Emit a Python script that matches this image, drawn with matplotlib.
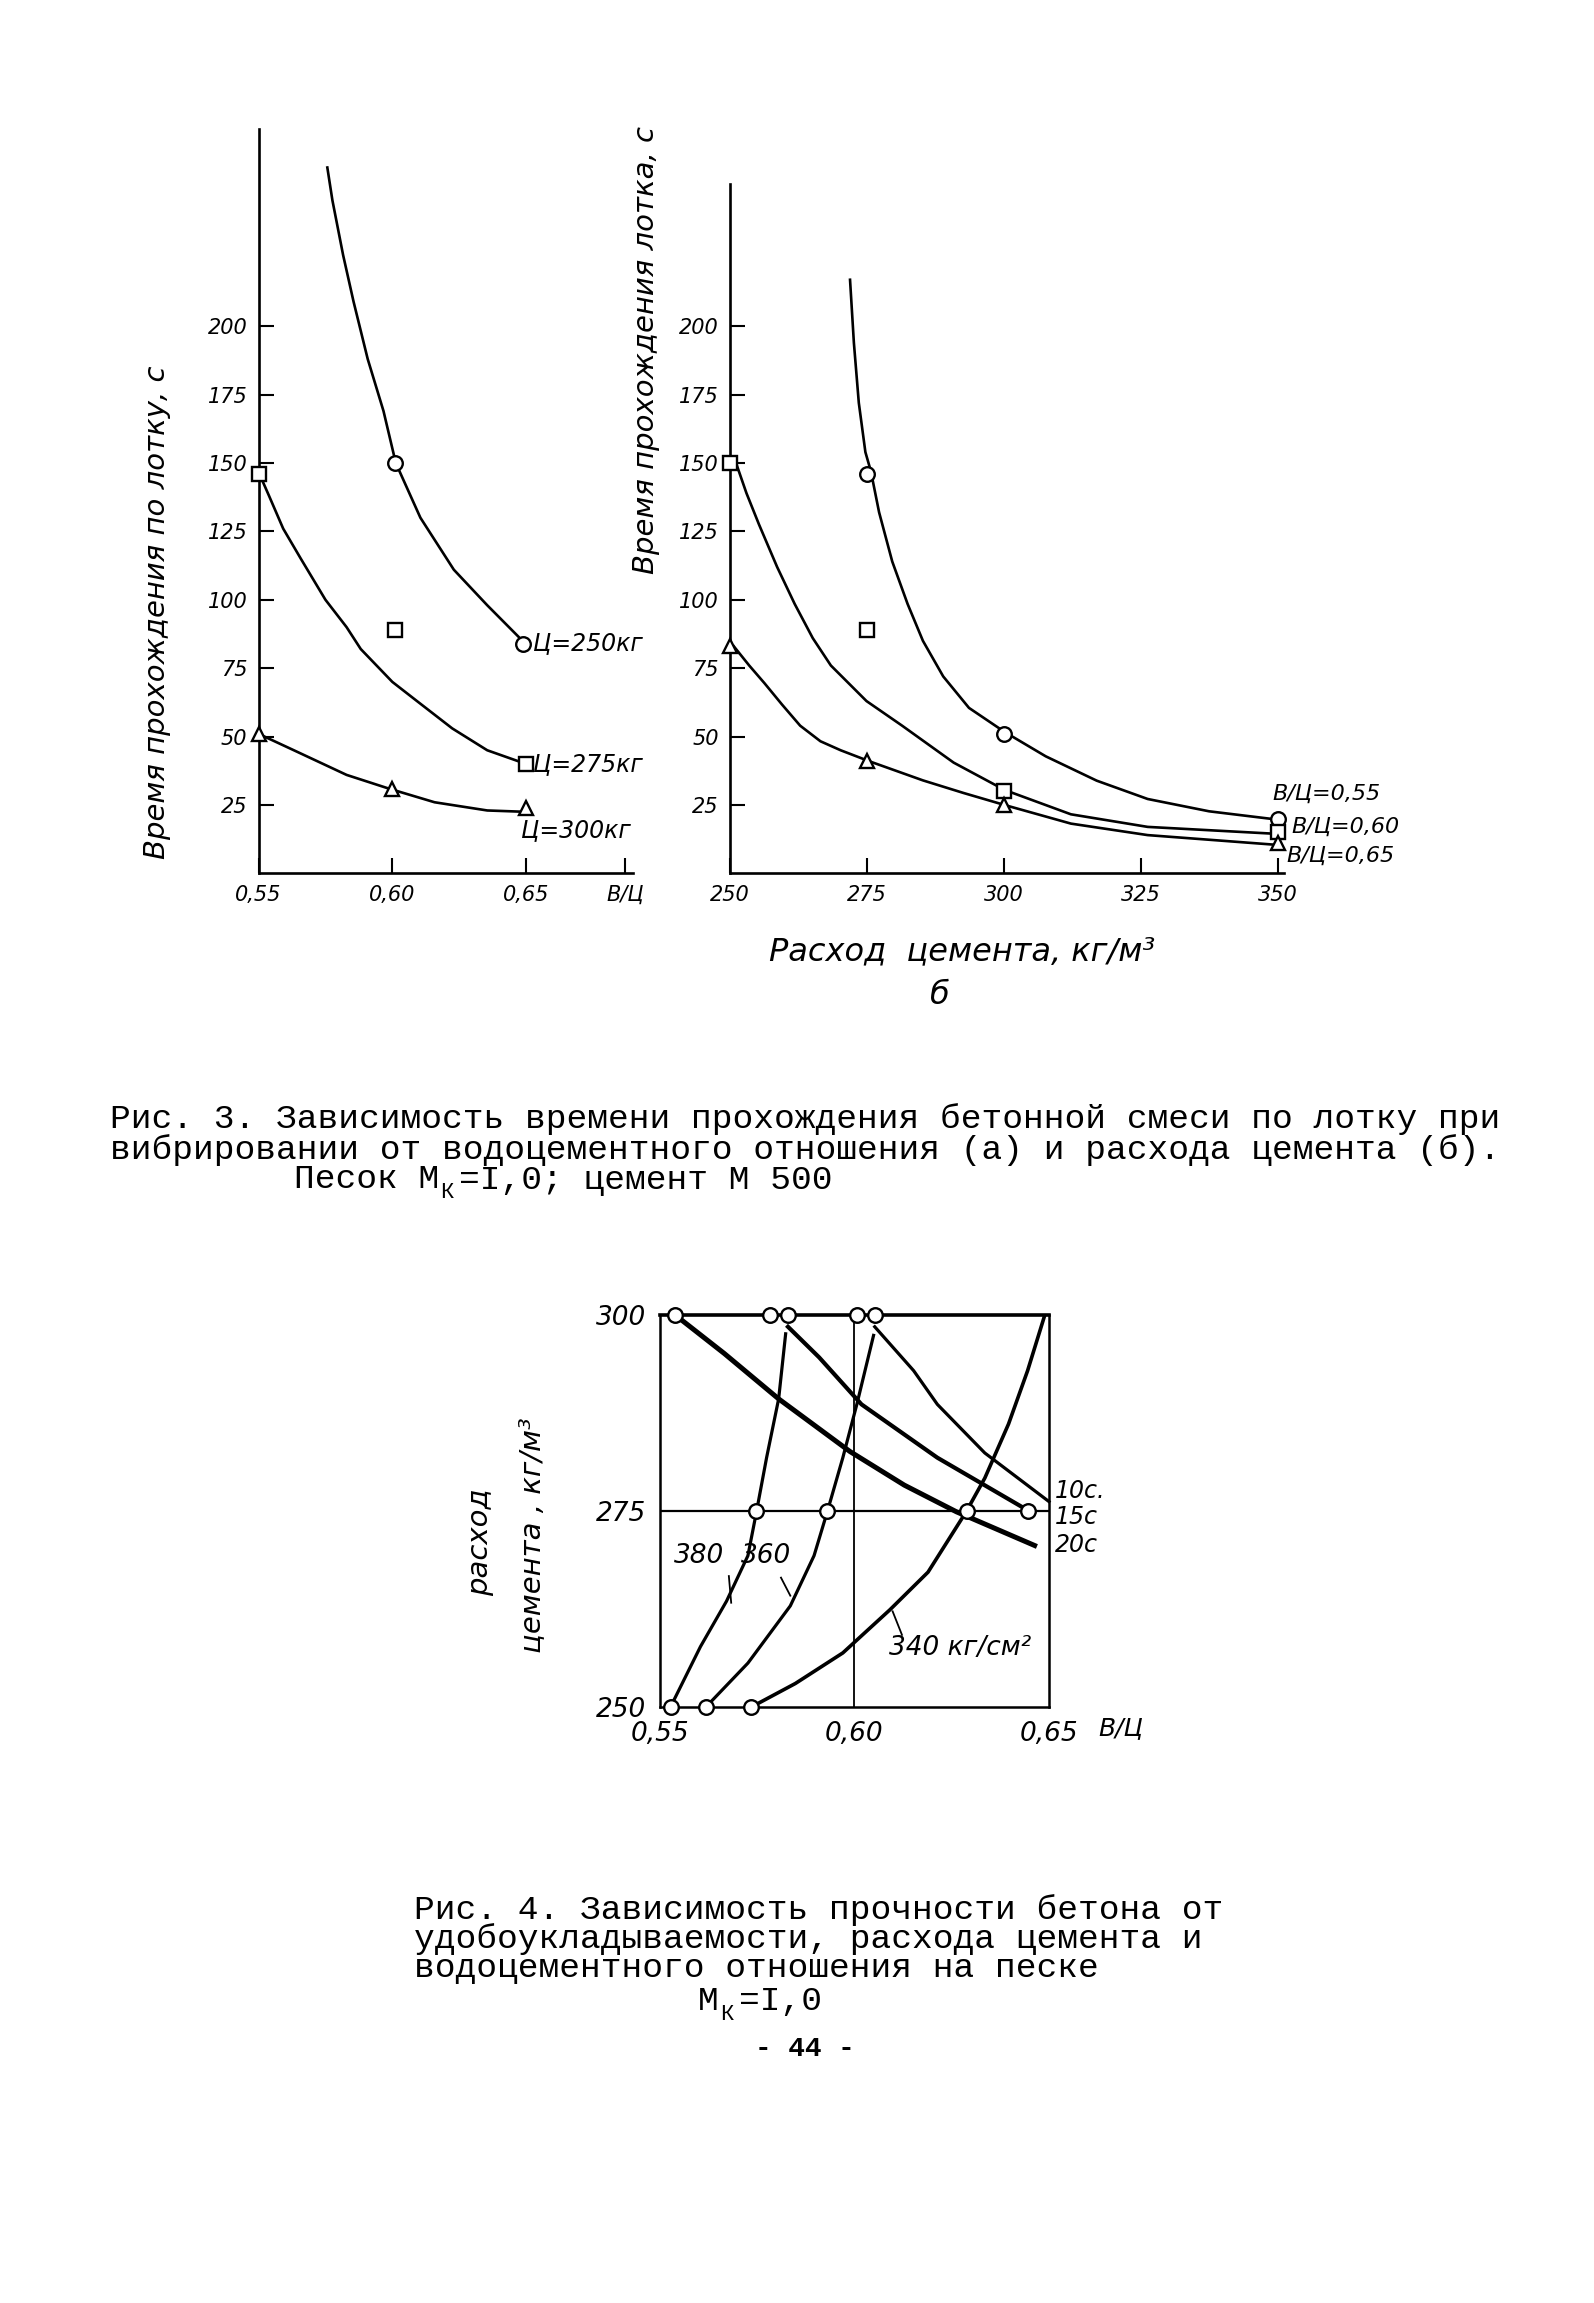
import matplotlib
matplotlib.use("Agg")
import matplotlib.pyplot as plt

W, H = 1594, 2303

# ---- Рис. 3 а: время прохождения от В/Ц
c250_x = [0.5757, 0.5776, 0.5796, 0.5816, 0.5855, 0.5908, 0.5967, 0.6013,
          0.6105, 0.6230, 0.6355, 0.6487]
c250_y = [258, 246, 236, 226, 209, 188, 169, 150, 130, 111, 98, 85]
c250_pts_x = [0.601, 0.649]
c250_pts_y = [150, 84]

c275_x = [0.5503, 0.5539, 0.5592, 0.5658, 0.575, 0.5829, 0.5882, 0.600,
          0.6092, 0.6224, 0.6355, 0.65]
c275_y = [146, 138, 126, 115, 100, 90, 82, 70, 63, 53, 45, 40]
c275_pts_x = [0.55, 0.601, 0.65]
c275_pts_y = [146, 89, 40]

c300_x = [0.55, 0.5632, 0.5829, 0.5987, 0.6158, 0.6355, 0.65]
c300_y = [51, 45, 36, 31, 26, 23, 22.5]
c300_pts_x = [0.55, 0.60, 0.65]
c300_pts_y = [51, 31, 24]

# ---- Рис. 3 б: время прохождения от расхода цемента
w55_x = [271.9, 272.6, 273.5, 274.7, 275.7, 277.2, 279.6, 282.4, 285.2, 288.9,
         293.6, 300.1, 307.6, 316.9, 326.2, 337.4, 349.3]
w55_y = [217, 194, 172, 154, 147, 132, 114, 98.5, 85, 72, 60.5, 51.7, 42.8,
         33.9, 27.2, 22.7, 19.8]
w55_pts_x = [275, 300, 350]
w55_pts_y = [146, 51, 20]

w60_x = [251.1, 253.0, 255.3, 258.6, 261.8, 265.1, 268.4, 274.9, 281.4, 290.8,
         300.1, 312.2, 326.2, 349.3]
w60_y = [150, 139, 127.5, 112, 98.5, 86, 76, 63, 54, 40.5, 30.5, 21.6, 17, 14.5]
w60_pts_x = [250, 275, 300, 350]
w60_pts_y = [150, 89, 30, 15]

w65_x = [250.7, 253.5, 256.3, 259.5, 262.8, 266.5, 270.2, 275.4, 285.2, 292.6,
         300.1, 312.2, 326.2, 349.3]
w65_y = [83, 76, 69.5, 61.7, 54, 48.3, 45, 41, 34, 29.4, 25, 18.2, 14, 10.5]
w65_pts_x = [250, 275, 300, 350]
w65_pts_y = [83, 41, 25, 11]

# ---- Рис. 4: прочность
s380_x = [0.5527, 0.5604, 0.5671, 0.5726, 0.5748, 0.5774, 0.5805, 0.5823]
s380_y = [250, 257.7, 263.5, 269.3, 274.9, 281.8, 289.3, 297.6]
s360_x = [0.5618, 0.5726, 0.5835, 0.5896, 0.593, 0.597, 0.6006, 0.6049]
s360_y = [250, 255.6, 262.9, 269.3, 274.9, 281.8, 288.6, 297.4]
s340_x = [0.5735, 0.5848, 0.597, 0.6091, 0.6189, 0.6287, 0.6335, 0.6396,
          0.6445, 0.6488]
s340_y = [250, 253, 256.9, 262.4, 267.2, 274.9, 279.2, 286.1, 292.9, 299.8]

t20_x = [0.5539, 0.5665, 0.5805, 0.5988, 0.6128, 0.6262, 0.6463]
t20_y = [300, 295.1, 289.3, 282.6, 278.3, 274.9, 270.6]
t15_x = [0.5829, 0.5909, 0.6018, 0.6213, 0.6445]
t15_y = [298.5, 294.6, 288.6, 281.8, 275.1]
t10_x = [0.6052, 0.6152, 0.6213, 0.6335, 0.65]
t10_y = [298.5, 292.9, 288.6, 282.4, 276.2]

ring_x = [0.5539, 0.5784, 0.5829, 0.6006, 0.6052,
          0.5748, 0.5930, 0.6290, 0.6445,
          0.5527, 0.5618, 0.5735]
ring_y = [300, 300, 300, 300, 300,
          275, 275, 275, 275,
          250, 250, 250]


def rect(left, top, right, bottom):
    return [left / W, 1 - bottom / H, (right - left) / W, (bottom - top) / H]


fig = plt.figure(figsize=(W / 100, H / 100), dpi=100)
fig.patch.set_facecolor("white")

hand = dict(fontstyle="italic", color="black")
mk = dict(markerfacecolor="white", markeredgecolor="black", markeredgewidth=1.7,
          linestyle="none", markersize=10.5, clip_on=False, zorder=5)


def style_top(ax):
    for s in ["top", "right"]:
        ax.spines[s].set_visible(False)
    for s in ["left", "bottom"]:
        ax.spines[s].set_linewidth(1.9)
    ax.tick_params(direction="in", length=11, width=1.5, labelsize=15, pad=8)
    for lab in ax.get_xticklabels() + ax.get_yticklabels():
        lab.set_fontstyle("italic")


# ---------- а
ax1 = fig.add_axes(rect(258.6, 129.2, 633, 873.4))
ax1.set_xlim(0.55, 0.69)
ax1.set_ylim(0, 272)
ax1.set_xticks([0.55, 0.60, 0.65, 0.687])
ax1.set_xticklabels(["0,55", "0,60", "0,65", "В/Ц"])
ax1.set_yticks([25, 50, 75, 100, 125, 150, 175, 200])
style_top(ax1)
ax1.plot(c250_x, c250_y, color="black", lw=1.9, clip_on=False)
ax1.plot(c275_x, c275_y, color="black", lw=1.9, clip_on=False)
ax1.plot(c300_x, c300_y, color="black", lw=1.9, clip_on=False)
ax1.plot(c250_pts_x, c250_pts_y, marker="o", **mk)
ax1.plot(c275_pts_x, c275_pts_y, marker="s", **mk)
ax1.plot(c300_pts_x, c300_pts_y, marker="^", **mk)
ax1.text(0.6525, 84, "Ц=250кг", fontsize=17, va="center", ha="left", **hand)
ax1.text(0.6525, 40, "Ц=275кг", fontsize=17, va="center", ha="left", **hand)
ax1.text(0.648, 16, "Ц=300кг", fontsize=17, va="center", ha="left", **hand)
fig.text(157 / W, 1 - 612 / H, "Время прохождения по лотку, с", rotation=90,
         fontsize=21, ha="center", va="center", **hand)

# ---------- б
ax2 = fig.add_axes(rect(730, 184, 1283.6, 873.4))
ax2.set_xlim(250, 351)
ax2.set_ylim(0, 252)
ax2.set_xticks([250, 275, 300, 325, 350])
ax2.set_yticks([25, 50, 75, 100, 125, 150, 175, 200])
style_top(ax2)
ax2.plot(w55_x, w55_y, color="black", lw=1.9, clip_on=False)
ax2.plot(w60_x, w60_y, color="black", lw=1.9, clip_on=False)
ax2.plot(w65_x, w65_y, color="black", lw=1.9, clip_on=False)
ax2.plot(w55_pts_x, w55_pts_y, marker="o", **mk)
ax2.plot(w60_pts_x, w60_pts_y, marker="s", **mk)
ax2.plot(w65_pts_x, w65_pts_y, marker="^", **mk)
ax2.text(349, 29, "В/Ц=0,55", fontsize=16, ha="left", va="center", **hand)
ax2.text(352.5, 17, "В/Ц=0,60", fontsize=16, ha="left", va="center", **hand)
ax2.text(351.5, 6.5, "В/Ц=0,65", fontsize=16, ha="left", va="center", **hand)
fig.text(646 / W, 1 - 350 / H, "Время прохождения лотка, с", rotation=90,
         fontsize=21, ha="center", va="center", **hand)
fig.text(962 / W, 1 - 952 / H, "Расход  цемента, кг/м³", fontsize=23,
         ha="center", va="center", **hand)
fig.text(940 / W, 1 - 996 / H, "б", fontsize=23, ha="center", va="center", **hand)

# ---------- подпись Рис. 3
mono = dict(family="Liberation Mono", fontsize=24.8, color="black", va="center")
cw = 0.6 * 24.8 * 100 / 72
fig.text(110 / W, 1 - 1119 / H,
         "Рис. 3. Зависимость времени прохождения бетонной смеси по лотку при", **mono)
fig.text(110 / W, 1 - 1150 / H,
         "вибрировании от водоцементного отношения (а) и расхода цемента (б).", **mono)
fig.text(294 / W, 1 - 1180 / H, "Песок М", **mono)
fig.text((294 + 7 * cw + 1) / W, 1 - 1193 / H, "К", family="Liberation Mono",
         fontsize=16, va="center")
fig.text((294 + 8 * cw) / W, 1 - 1180 / H, "=I,0; цемент М 500", **mono)

# ---------- Рис. 4
ax3 = fig.add_axes(rect(660, 1315, 1049, 1707))
ax3.set_xlim(0.55, 0.65)
ax3.set_ylim(250, 300)
for s in ax3.spines.values():
    s.set_linewidth(1.8)
ax3.spines["top"].set_linewidth(2.6)
ax3.set_xticks([0.55, 0.60, 0.65])
ax3.set_xticklabels(["0,55", "0,60", "0,65"])
ax3.set_yticks([250, 275, 300])
ax3.tick_params(length=0, labelsize=19, pad=10)
for lab in ax3.get_xticklabels() + ax3.get_yticklabels():
    lab.set_fontstyle("italic")
ax3.axvline(0.60, color="black", lw=1.3)
ax3.axhline(275, color="black", lw=1.6)
ax3.plot(s380_x, s380_y, color="black", lw=2.3, clip_on=False)
ax3.plot(s360_x, s360_y, color="black", lw=2.3, clip_on=False)
ax3.plot(s340_x, s340_y, color="black", lw=2.6, clip_on=False)
ax3.plot(t20_x, t20_y, color="black", lw=3.6, clip_on=False)
ax3.plot(t15_x, t15_y, color="black", lw=3.0, clip_on=False)
ax3.plot(t10_x, t10_y, color="black", lw=2.3, clip_on=False)
ax3.plot(ring_x, ring_y, marker="o", **mk)
ax3.text(0.6515, 277.6, "10с.", fontsize=17, ha="left", va="center", **hand)
ax3.text(0.6515, 274.2, "15с", fontsize=17, ha="left", va="center", **hand)
ax3.text(0.6515, 270.6, "20с", fontsize=17, ha="left", va="center", **hand)
ax3.text(0.5601, 269.3, "380", fontsize=19, ha="center", va="center", **hand)
ax3.text(0.5772, 269.3, "360", fontsize=19, ha="center", va="center", **hand)
ax3.text(0.6272, 257.5, "340 кг/см²", fontsize=19, ha="center", va="center", **hand)
ax3.plot([0.5677, 0.5683], [266.7, 263.3], color="black", lw=1.3)
ax3.plot([0.5811, 0.5835], [266.5, 264.2], color="black", lw=1.3)
ax3.plot([0.6098, 0.6122], [262.2, 259.2], color="black", lw=1.3)
ax3.text(0.6685, 247.3, "В/Ц", fontsize=18, ha="center", va="center", **hand)
fig.text(480 / W, 1 - 1542 / H, "расход", rotation=90, fontsize=21,
         ha="center", va="center", **hand)
fig.text(532 / W, 1 - 1535 / H, "цемента , кг/м³", rotation=90, fontsize=21,
         ha="center", va="center", **hand)

# ---------- подпись Рис. 4
fig.text(414 / W, 1 - 1910 / H, "Рис. 4. Зависимость прочности бетона от", **mono)
fig.text(414 / W, 1 - 1939 / H, "удобоукладываемости, расхода цемента и", **mono)
fig.text(414 / W, 1 - 1968 / H, "водоцементного отношения на песке", **mono)
fig.text(698 / W, 1 - 2001 / H, "М", **mono)
fig.text((698 + cw + 1) / W, 1 - 2014 / H, "К", family="Liberation Mono",
         fontsize=16, va="center")
fig.text((698 + 2 * cw) / W, 1 - 2001 / H, "=I,0", **mono)
fig.text(805 / W, 1 - 2049 / H, "- 44 -", family="Liberation Mono", fontsize=20,
         fontweight="bold", ha="center", va="center")

fig.savefig("out.png", dpi=100)
